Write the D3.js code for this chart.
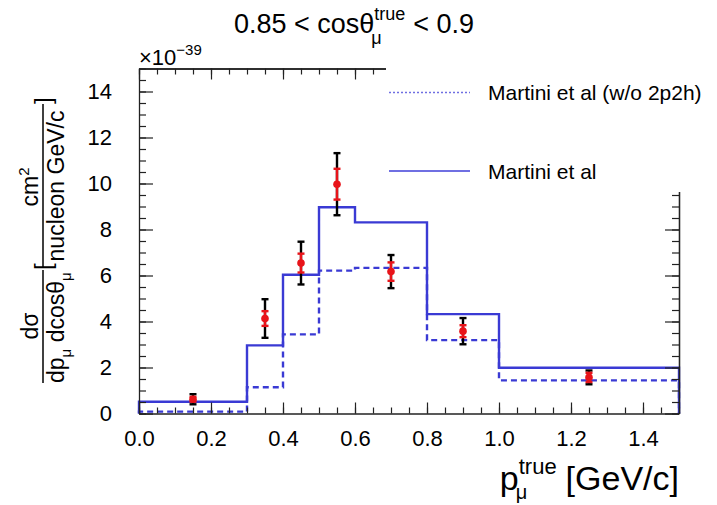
<!DOCTYPE html>
<html>
<head>
<meta charset="utf-8">
<script src="https://cdn.jsdelivr.net/npm/d3@7"></script>
<style>
  body { margin: 0; background: #fff; }
  svg { display: block; font-family: "Liberation Sans", Arial, sans-serif; }
</style>
</head>
<body>
<svg id="chart"></svg>
<script>
// dados (x 1e-39)
const binEdges = [0, 0.3, 0.4, 0.5, 0.6, 0.8, 1.0, 1.5]
const martini = [0.51, 2.96, 6.03, 8.97, 8.31, 4.32, 1.99]
const martiniNo2p2h = [0.08, 1.14, 3.44, 6.21, 6.33, 3.19, 1.44]

const dataX = [0.15, 0.35, 0.45, 0.55, 0.7, 0.9, 1.25]
const dataY = [0.62, 4.13, 6.54, 9.97, 6.17, 3.58, 1.57]
const errTotal = [0.22, 0.84, 0.93, 1.35, 0.72, 0.57, 0.30]
const errStat = [0.10, 0.32, 0.41, 0.67, 0.40, 0.26, 0.20]

const xMajorTicks = [0, 0.2, 0.4, 0.6, 0.8, 1.0, 1.2, 1.4]
const yMajorTicks = [0, 2, 4, 6, 8, 10, 12, 14]
const legendLabels = ["Martini et al (w/o 2p2h)", "Martini et al"]

const width = 717, height = 505
const pLeft = 139, pRight = 679, pTop = 68.5, pBottom = 413.5
const blue = "#3a3ad4"

const svg = d3.select("#chart").attr("width", width).attr("height", height)

const x = d3.scaleLinear().domain([0, 1.5]).range([pLeft, pRight])
const y = d3.scaleLinear().domain([0, 15]).range([pBottom, pTop])

// histograma em degraus
function stepPoints(vals) {
    let pts = [[binEdges[0], 0]]
    vals.forEach((v, i) => {
        pts.push([binEdges[i], v])
        pts.push([binEdges[i + 1], v])
    })
    pts.push([binEdges[binEdges.length - 1], 0])
    return pts
}
const line = d3.line().x(d => x(d[0])).y(d => y(d[1]))

svg.append("path")
    .attr("d", line(stepPoints(martiniNo2p2h)))
    .attr("fill", "none")
    .attr("stroke", blue)
    .attr("stroke-width", 2.4)
    .attr("stroke-dasharray", "6,4")

svg.append("path")
    .attr("d", line(stepPoints(martini)))
    .attr("fill", "none")
    .attr("stroke", blue)
    .attr("stroke-width", 2.4)

// pontos com barras de erro
const points = dataX.map((d, i) => ({ x: d, y: dataY[i], et: errTotal[i], es: errStat[i] }))

function errorBars(key, color, capW) {
    const g = svg.append("g")
    g.selectAll("line.v").data(points).join("line")
        .attr("class", "v")
        .attr("x1", d => x(d.x)).attr("x2", d => x(d.x))
        .attr("y1", d => y(d.y - d[key])).attr("y2", d => y(d.y + d[key]))
        .attr("stroke", color).attr("stroke-width", 2.4)
    ;[-1, 1].forEach(s => {
        g.selectAll("line.c" + (s + 1)).data(points).join("line")
            .attr("class", "c" + (s + 1))
            .attr("x1", d => x(d.x) - capW).attr("x2", d => x(d.x) + capW)
            .attr("y1", d => y(d.y + s * d[key])).attr("y2", d => y(d.y + s * d[key]))
            .attr("stroke", color).attr("stroke-width", 2.4)
    })
}
errorBars("et", "#000", 3.5)
errorBars("es", "#e8141a", 3.5)

svg.append("g").selectAll("circle").data(points).join("circle")
    .attr("cx", d => x(d.x)).attr("cy", d => y(d.y)).attr("r", 3.8)
    .attr("fill", "#e8141a")

// eixos (ticks para dentro, estilo ROOT)
const axisColor = "#222"
function styleAxis(g) {
    g.select(".domain").attr("stroke", axisColor).attr("stroke-width", 1.3)
    g.selectAll(".tick line").attr("stroke", axisColor).attr("stroke-width", 1.2)
    g.selectAll(".tick text").attr("fill", "#000")
        .style("font-size", "22px").style("font-family", "Liberation Sans, Arial, sans-serif")
}
const xMinor = d3.range(0, 1.5001, 0.05)
const yMinor = d3.range(0, 15.001, 0.5)

// baixo
svg.append("g").attr("transform", `translate(0,${pBottom})`)
    .call(d3.axisBottom(x).tickValues(xMinor).tickSize(-6).tickSizeOuter(0).tickFormat(""))
    .call(styleAxis)
svg.append("g").attr("transform", `translate(0,${pBottom})`)
    .call(d3.axisBottom(x).tickValues(xMajorTicks).tickSize(-11).tickSizeOuter(0)
        .tickPadding(17).tickFormat(d3.format(".1f")))
    .call(styleAxis)
    .call(g => g.select(".domain").remove())
// cima
svg.append("g").attr("transform", `translate(0,${pTop})`)
    .call(d3.axisTop(x).tickValues(xMinor).tickSize(-6).tickSizeOuter(0).tickFormat(""))
    .call(styleAxis)
svg.append("g").attr("transform", `translate(0,${pTop})`)
    .call(d3.axisTop(x).tickValues(xMajorTicks).tickSize(-11).tickSizeOuter(0).tickFormat(""))
    .call(styleAxis)
// esquerda
svg.append("g").attr("transform", `translate(${pLeft},0)`)
    .call(d3.axisLeft(y).tickValues(yMinor).tickSize(-7).tickSizeOuter(0).tickFormat(""))
    .call(styleAxis)
svg.append("g").attr("transform", `translate(${pLeft},0)`)
    .call(d3.axisLeft(y).tickValues(yMajorTicks).tickSize(-14).tickSizeOuter(0)
        .tickPadding(27).tickFormat(d3.format("d")))
    .call(styleAxis)
    .call(g => g.select(".domain").remove())
// direita
svg.append("g").attr("transform", `translate(${pRight},0)`)
    .call(d3.axisRight(y).tickValues(yMinor).tickSize(-7).tickSizeOuter(0).tickFormat(""))
    .call(styleAxis)
svg.append("g").attr("transform", `translate(${pRight},0)`)
    .call(d3.axisRight(y).tickValues(yMajorTicks).tickSize(-14).tickSizeOuter(0).tickFormat(""))
    .call(styleAxis)

// expoente
const expo = svg.append("text").attr("x", pLeft).attr("y", 65).style("font-size", "22px")
expo.append("tspan").text("×10")
expo.append("tspan").attr("dy", -10).style("font-size", "15px").text("−39")

// legenda (caixa branca por cima do canto)
svg.append("rect").attr("x", 386).attr("y", 50).attr("width", width - 386).attr("height", 142)
    .attr("fill", "#fff")

const legend = svg.append("g")
legend.append("line").attr("x1", 389).attr("x2", 470).attr("y1", 92.5).attr("y2", 92.5)
    .attr("stroke", "#6f6fe2").attr("stroke-width", 1.6).attr("stroke-dasharray", "2,2")
legend.append("line").attr("x1", 389).attr("x2", 470).attr("y1", 171).attr("y2", 171)
    .attr("stroke", "#6f6fe2").attr("stroke-width", 1.8)
legend.selectAll("text").data(legendLabels).join("text")
    .attr("x", 488).attr("y", (d, i) => i == 0 ? 100 : 178.5)
    .style("font-size", "21px")
    .text(d => d)

// titulo
const title = svg.append("text").attr("x", 354).attr("y", 33)
    .attr("text-anchor", "middle").style("font-size", "27px")
title.append("tspan").text("0.85 < cosθ")
title.append("tspan").attr("dy", -13).style("font-size", "18px").text("true")
title.append("tspan").attr("dx", -34).attr("dy", 24).style("font-size", "18px").text("μ")
title.append("tspan").attr("dx", 24).attr("dy", -11).text(" < 0.9")

// titulo eixo x
const xt = svg.append("text").attr("x", pRight).attr("y", 490)
    .attr("text-anchor", "end").style("font-size", "34px")
xt.append("tspan").text("p")
xt.append("tspan").attr("dy", -16).style("font-size", "22px").text("true")
xt.append("tspan").attr("dx", -41).attr("dy", 25).style("font-size", "20px").text("μ")
xt.append("tspan").attr("dx", 29).attr("dy", -9).text(" [GeV/c]")

// titulo eixo y (rodado)
const yt = svg.append("g").attr("transform", "translate(43,383) rotate(-90)")
    .style("font-size", "23px")
yt.append("line").attr("x1", 0).attr("x2", 113).attr("y1", 0).attr("y2", 0)
    .attr("stroke", "#000").attr("stroke-width", 1.5)
yt.append("text").attr("x", 57).attr("y", -5).attr("text-anchor", "middle").text("dσ")
const den = yt.append("text").attr("x", 0).attr("y", 21)
den.append("tspan").text("dp")
den.append("tspan").attr("dy", 7).style("font-size", "15px").text("μ")
den.append("tspan").attr("dy", -7).text(" dcosθ")
den.append("tspan").attr("dy", 7).style("font-size", "15px").text("μ")
yt.append("text").attr("x", 113).attr("y", 8).style("font-size", "24px").text("[")
yt.append("line").attr("x1", 116).attr("x2", 279).attr("y1", 0).attr("y2", 0)
    .attr("stroke", "#000").attr("stroke-width", 1.5)
const num2 = yt.append("text").attr("x", 196).attr("y", -5).attr("text-anchor", "middle")
num2.append("tspan").text("cm")
num2.append("tspan").attr("dy", -9).style("font-size", "15px").text("2")
yt.append("text").attr("x", 197).attr("y", 21).attr("text-anchor", "middle").text("nucleon GeV/c")
yt.append("text").attr("x", 279).attr("y", 8).style("font-size", "24px").text("]")
</script>
</body>
</html>
